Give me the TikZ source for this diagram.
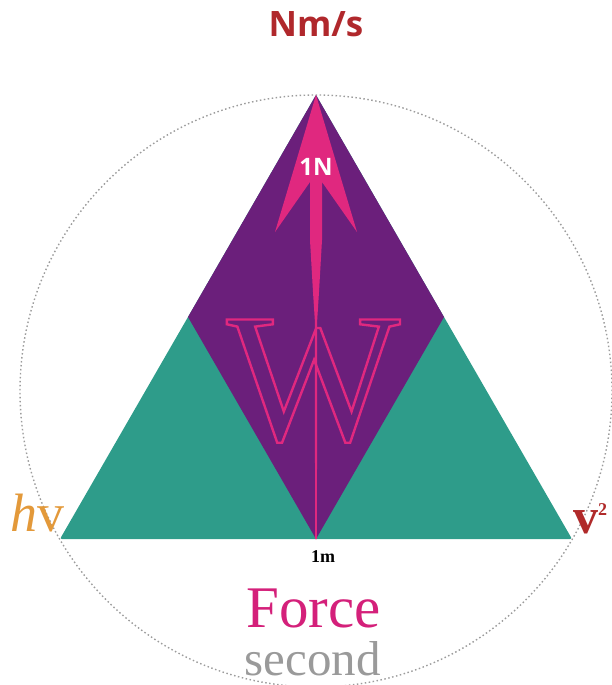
\documentclass[tikz,border=0pt]{standalone}
\usepackage{fontspec}
\setmainfont{Liberation Serif}
\newfontfamily\osans{Open Sans}
\definecolor{purp}{HTML}{6B1F7B}
\definecolor{tealc}{HTML}{2E9C8A}
\definecolor{pinkA}{HTML}{E0287F}
\definecolor{nmred}{HTML}{B0282C}
\definecolor{hvorange}{HTML}{E3993A}
\definecolor{vred}{HTML}{B02A2A}
\definecolor{forcepink}{HTML}{D4207A}
\definecolor{secgray}{HTML}{9A9A9A}
\definecolor{dotgray}{HTML}{9C9C9C}
\newcommand\outlinetext[2]{\special{pdf:literal direct #1 w 1 Tr}#2\special{pdf:literal direct 0 Tr}}
\tikzset{
  dotring/.style={draw=dotgray, line width=1.4pt, dash pattern=on 1.5pt off 2.5pt},
  lbl/.style={inner sep=0pt}
}
\begin{document}
\begin{tikzpicture}[x=1pt,y=-1pt]
\useasboundingbox (0,0) rectangle (612,685);
\coordinate (A) at (316,95);
\coordinate (L) at (60,539);
\coordinate (R) at (572,539);
\coordinate (ML) at (188,317);
\coordinate (MR) at (444,317);
\coordinate (B) at (316,539);
\draw[dotring] (316,391) circle[radius=296pt];
\fill[tealc, rounded corners=2pt] (A) -- (L) -- (R) -- cycle;
\fill[purp] (A) -- (ML) -- (B) -- (MR) -- cycle;
\node[lbl, anchor=base, text=pinkA, font=\fontsize{184}{184}\selectfont] (W) at (313.5,440) {\outlinetext{2.4}{W}};
\fill[pinkA] (A) -- (357,232) -- (322,182) -- (322,240) -- (319,292) -- (317.2,320) -- (316.9,539) -- (315.1,539) -- (314.8,320) -- (313,292) -- (310,240) -- (310,182) -- (275,232) -- cycle;
\node[lbl, anchor=base, text=nmred, font=\osans\bfseries\fontsize{35}{40}\selectfont] (nms) at (316,37) {Nm/s};
\node[lbl, anchor=base, text=white, font=\osans\bfseries\fontsize{24}{28}\selectfont] (oneN) at (316,175) {1N};
\node[lbl, anchor=base west, text=hvorange, font=\fontsize{54}{60}\selectfont] (hv) at (10,531) {\textit{h}v};
\node[lbl, anchor=base west, text=vred, font=\bfseries\fontsize{50}{55}\selectfont] (v2) at (573,533) {v\raisebox{18pt}{\fontsize{18}{18}\selectfont 2}};
\node[lbl, anchor=base, font=\bfseries\fontsize{18}{20}\selectfont] (onem) at (323,562) {1m};
\node[lbl, anchor=base, text=forcepink, font=\fontsize{59}{62}\selectfont] (force) at (313.5,627) {Force};
\node[lbl, anchor=base, text=secgray, font=\fontsize{49}{52}\selectfont] (second) at (312.5,675) {second};
\end{tikzpicture}
\end{document}
